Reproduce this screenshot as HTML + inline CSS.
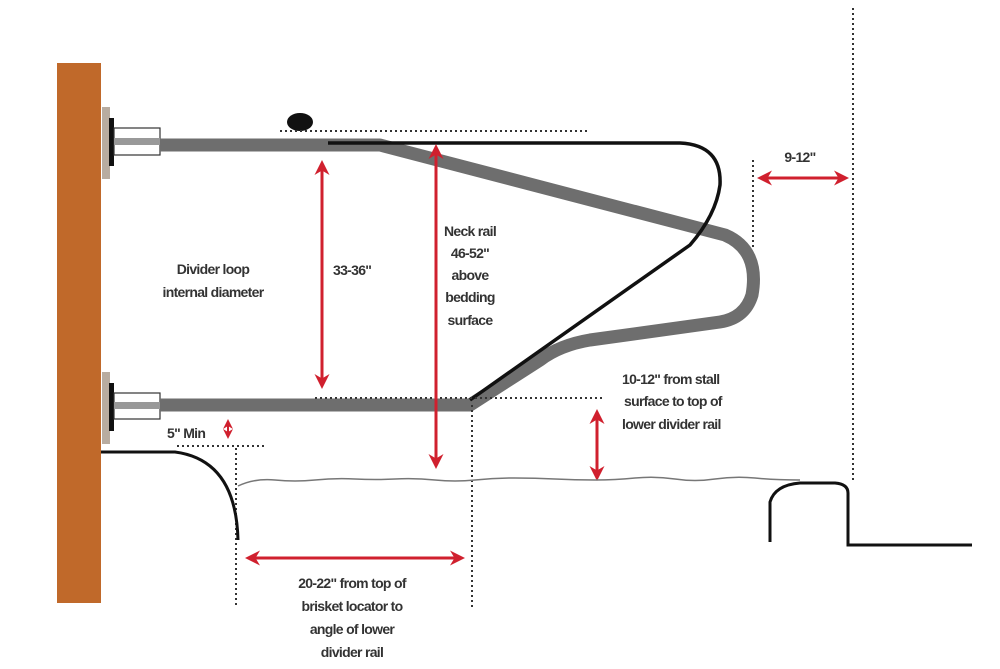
<!DOCTYPE html>
<html><head><meta charset="utf-8"><style>
html,body{margin:0;padding:0;background:#fff;}
svg{display:block;}
text{font-family:"Liberation Sans Narrow","Liberation Sans",sans-serif;font-size:14px;fill:#333;font-weight:bold;letter-spacing:-0.7px;}
</style></head><body>
<svg width="1000" height="669" viewBox="0 0 1000 669" xmlns="http://www.w3.org/2000/svg">
<defs>
<marker id="ah" viewBox="0 0 10 10" refX="8" refY="5" markerWidth="5" markerHeight="5" orient="auto-start-reverse">
<path d="M0,0 L10,5 L0,10 L3,5 z" fill="#d0202e"/></marker>
</defs>
<rect x="57" y="63" width="44" height="540" fill="#c0692a"/>
<g>
<rect x="102" y="107" width="8" height="72" fill="#b8aca0"/>
<rect x="109" y="118" width="5" height="48" fill="#111"/>
<rect x="114" y="128" width="46" height="27" fill="#fff" stroke="#333" stroke-width="1.2"/>
<rect x="114" y="138" width="46" height="7" fill="#999"/>
<rect x="102" y="372" width="8" height="72" fill="#b8aca0"/>
<rect x="109" y="383" width="5" height="48" fill="#111"/>
<rect x="114" y="393" width="46" height="26" fill="#fff" stroke="#333" stroke-width="1.2"/>
<rect x="114" y="402" width="46" height="7" fill="#999"/>
</g>
<path d="M160,145 L380,145 L725,235 Q760,250 752,295 Q745,318 720,322 L590,340 Q560,345 540,360 L470,405 L160,405" fill="none" stroke="#6e6e6e" stroke-width="13" stroke-linejoin="round"/>
<path d="M328,143 L680,143 Q722,145 720,185 Q716,215 690,245 L470,400" fill="none" stroke="#111" stroke-width="3.5"/>
<ellipse cx="300" cy="122" rx="13" ry="9" fill="#111"/>
<g stroke="#333" stroke-width="2" stroke-dasharray="2,3" fill="none">
<line x1="280" y1="131" x2="590" y2="131"/>
<line x1="315" y1="398" x2="605" y2="398"/>
<line x1="472" y1="405" x2="472" y2="610"/>
<line x1="753" y1="160" x2="753" y2="250"/>
<line x1="853" y1="8" x2="853" y2="480"/>
<line x1="177" y1="446" x2="265" y2="446"/>
<line x1="236" y1="448" x2="236" y2="605"/>
</g>
<g stroke="#d0202e" stroke-width="3" marker-start="url(#ah)" marker-end="url(#ah)">
<line x1="322" y1="163" x2="322" y2="386"/>
<line x1="436" y1="147" x2="436" y2="466"/>
<line x1="597" y1="412" x2="597" y2="478"/>
<line x1="760" y1="178" x2="846" y2="178"/>
<line x1="248" y1="558" x2="462" y2="558"/>
<line x1="228" y1="421" x2="228" y2="437" stroke-width="2"/>
</g>
<path d="M101,452 L175,452 Q236,460 238,540" fill="none" stroke="#111" stroke-width="3"/>
<path d="M238,486 Q255,478 275,480 T315,480 T355,479 T395,479 T435,480 T475,480 T515,478 T555,479 T595,480 T635,478 T675,479 T715,479 T755,478 T800,480" fill="none" stroke="#777" stroke-width="1.5"/>
<path d="M770,542 L770,502 Q775,485 800,483 L835,483 Q848,484 848,493 L848,545 L972,545" fill="none" stroke="#111" stroke-width="3"/>
<text x="213" y="274" text-anchor="middle">Divider loop</text>
<text x="213" y="297" text-anchor="middle">internal diameter</text>
<text x="333" y="275">33-36"</text>
<text x="470" y="236" text-anchor="middle">Neck rail</text>
<text x="470" y="258" text-anchor="middle">46-52"</text>
<text x="470" y="280" text-anchor="middle">above</text>
<text x="470" y="302" text-anchor="middle">bedding</text>
<text x="470" y="325" text-anchor="middle">surface</text>
<text x="622" y="384">10-12" from stall</text>
<text x="624" y="406">surface to top of</text>
<text x="622" y="429">lower divider rail</text>
<text x="800" y="162" text-anchor="middle">9-12"</text>
<text x="167" y="438">5" Min</text>
<text x="352" y="588" text-anchor="middle">20-22" from top of</text>
<text x="352" y="611" text-anchor="middle">brisket locator to</text>
<text x="352" y="634" text-anchor="middle">angle of lower</text>
<text x="352" y="657" text-anchor="middle">divider rail</text>
</svg>
</body></html>
